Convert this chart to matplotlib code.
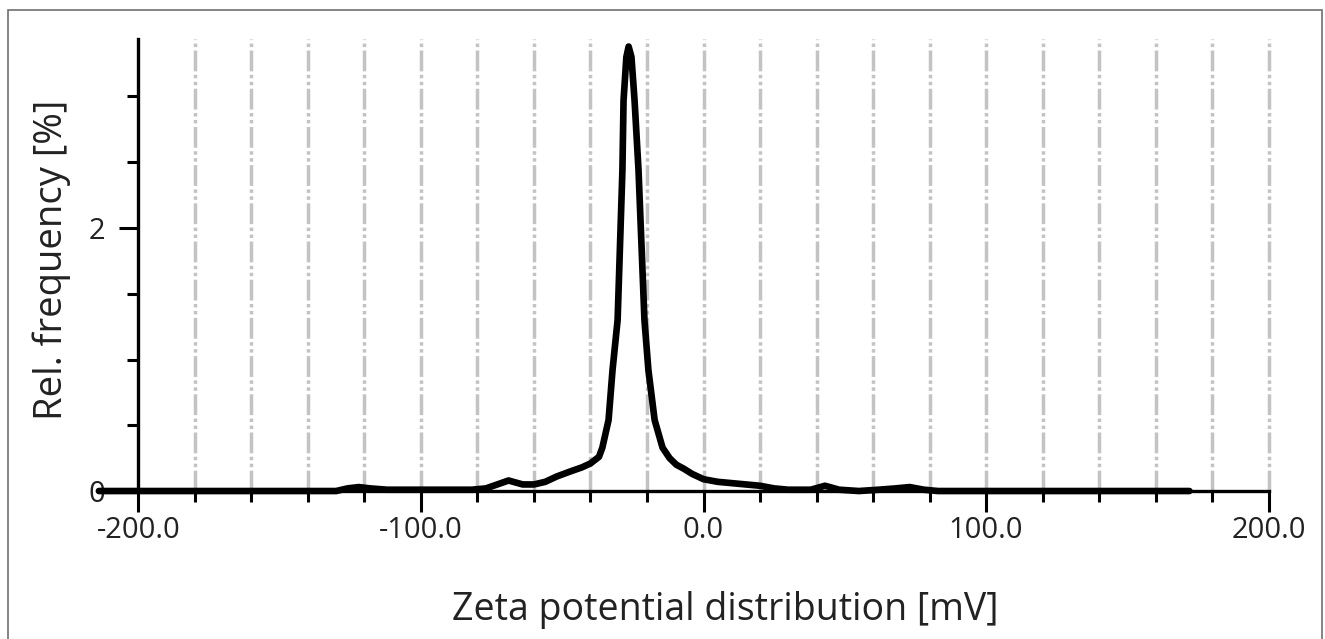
import numpy as np
import matplotlib.pyplot as plt
from matplotlib.patches import Rectangle

plt.rcParams['font.family'] = ['Open Sans', 'DejaVu Sans']

# zeta potential distribution
zeta_mv = [-214, -130, -126, -122, -118, -112, -100, -90, -82, -77, -73, -69,
           -64, -60, -56, -52, -47, -43, -40, -37, -35.8, -33.6, -32.2, -30.4,
           -28.7, -28.3, -27.3, -26.5, -25.5, -24.4, -23.0, -20.9, -19.5,
           -17.3, -14.5, -12, -9.6, -7, -4, 0, 5, 10, 15, 20, 25, 30, 38, 43,
           48, 55, 62, 68, 73, 78, 83, 172]
rel_freq = [0.0, 0.0, 0.02, 0.03, 0.02, 0.01, 0.01, 0.01, 0.01, 0.02, 0.05, 0.08,
            0.05, 0.05, 0.07, 0.11, 0.15, 0.18, 0.21, 0.26, 0.33, 0.54, 0.92, 1.30,
            2.44, 2.97, 3.30, 3.38, 3.30, 2.97, 2.44, 1.30, 0.92,
            0.54, 0.33, 0.25, 0.20, 0.17, 0.13, 0.09, 0.07, 0.06, 0.05, 0.04, 0.02, 0.01, 0.01, 0.04,
            0.01, 0.0, 0.01, 0.02, 0.03, 0.01, 0.0, 0.0]

x_major = [-200, -100, 0, 100, 200]
x_minor = list(range(-180, 201, 20))
y_major = [0, 2]
y_minor = [0.5, 1, 1.5, 2.5, 3]
grid_x = list(range(-180, 201, 20))
y_top = 3.44

fig = plt.figure(figsize=(13.25, 6.39), dpi=100)
ax = fig.add_axes([0.0725, 0.2254, 0.8913, 0.7162])

# figure border
fig.patches.append(Rectangle((8 / 1325, -0.1), (1322 - 8) / 1325, (639 - 10) / 639 + 0.1,
                             transform=fig.transFigure, fill=False, ec='#707070', lw=1.2))

for gx in grid_x:
    ax.plot([gx, gx], [0, y_top], color='#c3c3c3', lw=2.5, dashes=(6, 1, 1, 1, 1, 1),
            solid_capstyle='butt', zorder=1)

ax.plot(zeta_mv, rel_freq, color='black', lw=4.8, solid_joinstyle='round',
        solid_capstyle='round', zorder=3, clip_on=False)

ax.set_xlim(-215, 203)
ax.set_ylim(-0.03, 3.45)

for s in ['top', 'right']:
    ax.spines[s].set_visible(False)
ax.spines['left'].set_position(('data', -200))
ax.spines['bottom'].set_position(('data', 0))
ax.spines['left'].set_bounds(0, y_top)
ax.spines['bottom'].set_bounds(-200, 200)
for s in ['left', 'bottom']:
    ax.spines[s].set_linewidth(2.4)
    ax.spines[s].set_zorder(2)

ax.set_xticks(x_major)
ax.set_xticklabels([f'{v:.1f}' for v in x_major])
ax.set_xticks(x_minor, minor=True)
ax.set_yticks(y_major)
ax.set_yticklabels([str(v) for v in y_major])
ax.set_yticks(y_minor, minor=True)

ax.tick_params(axis='x', which='major', direction='out', length=15, width=2.2,
               labelsize=21, pad=3, colors='black', labelcolor='#222222')
ax.tick_params(axis='x', which='minor', direction='out', length=8, width=2.2, colors='black')
ax.tick_params(axis='y', which='major', direction='out', length=14, width=2.2,
               labelsize=21, pad=10, colors='black', labelcolor='#222222')
ax.tick_params(axis='y', which='minor', direction='out', length=8, width=2.2, colors='black')

fig.text(725 / 1325, 1 - 610 / 639, 'Zeta potential distribution [mV]', ha='center',
         va='center', fontsize=27, color='#222222')
fig.text(52 / 1325, 1 - 260 / 639, 'Rel. frequency [%]', ha='center', va='center',
         rotation=90, fontsize=27.5, color='#222222')

fig.savefig('out.png', dpi=100)
